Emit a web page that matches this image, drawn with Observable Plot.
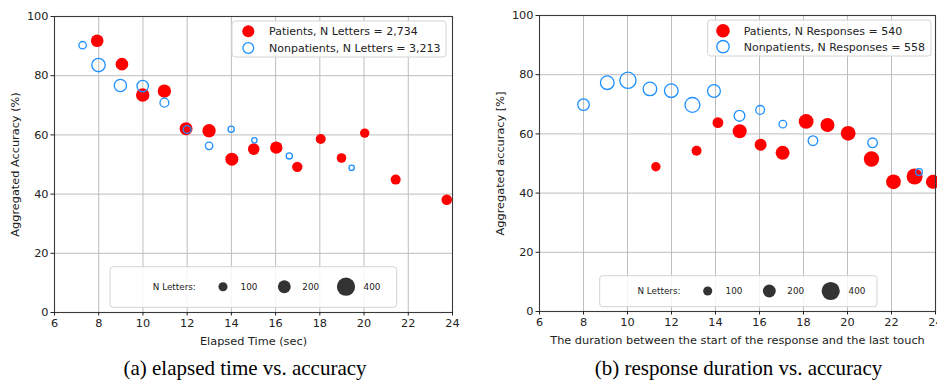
<!DOCTYPE html>
<html><head><meta charset="utf-8">
<script src="https://cdn.jsdelivr.net/npm/d3@7"></script>
<script src="https://cdn.jsdelivr.net/npm/@observablehq/plot@0.6"></script>
<style>
body{margin:0;background:#fff;}
#wrap{position:relative;width:937px;height:380px;overflow:hidden;background:#fff;}
.panel{position:absolute;top:0;}
.panel svg{max-width:none !important;}
#overlay{position:absolute;left:0;top:0;}
</style></head><body><div id="wrap"></div>
<script>
// ---------- data ----------
const xTicks = [6, 8, 10, 12, 14, 16, 18, 20, 22, 24];
const yTicks = [0, 20, 40, 60, 80, 100];

// Panel (a): elapsed time vs. accuracy
const aPatientsX = [7.93, 9.05, 9.99, 10.97, 11.95, 12.99, 14.02, 15.01, 16.03, 16.98, 18.04, 18.98, 20.03, 21.43, 23.74];
const aPatientsY = [91.8, 83.9, 73.5, 74.8, 62.1, 61.4, 51.8, 55.2, 55.7, 49.2, 58.6, 52.2, 60.6, 44.9, 38.1];
const aPatientsN = [192, 192, 217, 217, 204, 217, 204, 162, 186, 131, 121, 111, 107, 121, 136];
const aNonX = [7.27, 7.99, 8.98, 9.99, 10.97, 12.0, 12.99, 13.99, 15.04, 16.62, 19.44];
const aNonY = [90.3, 83.6, 76.7, 76.5, 70.9, 61.8, 56.3, 61.9, 58.2, 52.9, 48.9];
const aNonN = [66, 217, 180, 157, 94, 73, 66, 46, 35, 46, 35];

// Panel (b): response duration vs. accuracy
const bPatientsX = [11.29, 13.14, 14.11, 15.10, 16.05, 17.05, 18.12, 19.09, 20.03, 21.09, 22.09, 23.05, 23.88];
const bPatientsY = [48.9, 54.3, 63.8, 60.9, 56.3, 53.6, 64.2, 63.0, 60.2, 51.5, 43.8, 45.6, 43.8];
const bPatientsN = [107, 121, 141, 237, 174, 237, 264, 237, 264, 286, 264, 309, 237];
const bNonX = [8.0, 9.08, 10.02, 11.02, 11.99, 12.95, 13.93, 15.09, 16.03, 17.06, 18.43, 21.14, 23.25];
const bNonY = [69.9, 77.3, 78.1, 75.2, 74.6, 69.8, 74.5, 66.1, 68.1, 63.3, 57.7, 57.0, 47.1];
const bNonN = [162, 223, 317, 223, 223, 264, 198, 141, 94, 70, 111, 111, 56];

const sizeLegendValues = [100, 200, 400];
const sizeLegendLabels = ["100", "200", "400"];
const sizeLegendTitle = "N Letters:";

const aLegend = ["Patients, N Letters = 2,734", "Nonpatients, N Letters = 3,213"];
const bLegend = ["Patients, N Responses = 540", "Nonpatients, N Responses = 558"];
const aXLabel = "Elapsed Time (sec)";
const aYLabel = "Aggregated Accuracy (%)";
const bXLabel = "The duration between the start of the response and the last touch";
const bYLabel = "Aggregated accuracy [%]";
const captions = ["(a) elapsed time vs. accuracy", "(b) response duration vs. accuracy"];

const RED = "#ff0000", BLUE = "#1e90ff";

function rows(xs, ys, ns) { return xs.map((x, i) => ({x, y: ys[i], n: ns[i]})); }

function panel(o) {
  return Plot.plot({
    width: o.width, height: o.height,
    marginLeft: o.ml, marginRight: o.mr, marginTop: o.mt, marginBottom: o.mb,
    style: {fontFamily: "DejaVu Sans", fontSize: "11.3px", color: "#222", background: "transparent", maxWidth: "none"},
    x: {domain: [6, 24]},
    y: {domain: [0, 100]},
    r: {type: "sqrt", domain: [0, 400], range: [0, 9.1]},
    marks: [
      Plot.gridX(xTicks, {stroke: "#bdbdbd", strokeOpacity: 1, strokeWidth: 1}),
      Plot.gridY(yTicks, {stroke: "#bdbdbd", strokeOpacity: 1, strokeWidth: 1}),
      Plot.dot(o.pat, {x: "x", y: "y", r: "n", fill: RED, stroke: "none"}),
      Plot.dot(o.non, {x: "x", y: "y", r: "n", fill: "none", stroke: BLUE, strokeWidth: 1.3}),
      Plot.frame({stroke: "#3a3a3a", strokeWidth: 1.1}),
      Plot.axisX({ticks: xTicks, label: o.xLabel, labelAnchor: "center", labelArrow: "none", labelOffset: 32, tickSize: 3.5, tickPadding: 2.5, stroke: "#222"}),
      Plot.axisY({ticks: yTicks, label: o.yLabel, labelAnchor: "center", labelArrow: "none", labelOffset: 44, tickSize: 3.5, tickPadding: 2.5, stroke: "#222"})
    ]
  });
}

const wrap = document.getElementById("wrap");
const pa = panel({width: 467, height: 350, ml: 54, mr: 15, mt: 16, mb: 38,
  pat: rows(aPatientsX, aPatientsY, aPatientsN), non: rows(aNonX, aNonY, aNonN), xLabel: aXLabel, yLabel: aYLabel});
const pb = panel({width: 483, height: 350, ml: 72, mr: 15, mt: 15, mb: 39,
  pat: rows(bPatientsX, bPatientsY, bPatientsN), non: rows(bNonX, bNonY, bNonN), xLabel: bXLabel, yLabel: bYLabel});
const da = document.createElement("div"); da.className = "panel"; da.style.left = "0px"; da.style.width = "467px"; da.appendChild(pa); wrap.appendChild(da);
const db = document.createElement("div"); db.className = "panel"; db.style.left = "467px"; db.style.width = "483px"; db.appendChild(pb); wrap.appendChild(db);

// ---------- legends & captions (overlay) ----------
const rScale = pa.scale("r");
const svg = d3.select(wrap).append("svg").attr("id", "overlay").attr("width", 937).attr("height", 380)
  .style("font-family", "DejaVu Sans");

function seriesLegend(box, cx, cy0, dy, tx, labels, rr) {
  svg.append("rect").attr("x", box[0]).attr("y", box[1]).attr("width", box[2]).attr("height", box[3])
    .attr("rx", 3).attr("fill", "#fff").attr("fill-opacity", 0.85).attr("stroke", "#d4d4d4");
  svg.append("circle").attr("cx", cx).attr("cy", cy0).attr("r", rr).attr("fill", RED);
  svg.append("circle").attr("cx", cx).attr("cy", cy0 + dy).attr("r", rr - 0.6).attr("fill", "none").attr("stroke", BLUE).attr("stroke-width", 1.3);
  labels.forEach((t, i) => svg.append("text").attr("x", tx).attr("y", cy0 + i * dy).attr("dy", "0.36em")
    .attr("font-size", 11).attr("fill", "#222").text(t));
}
function sizeLegend(box, cy, titleX, circX, labX) {
  svg.append("rect").attr("x", box[0]).attr("y", box[1]).attr("width", box[2]).attr("height", box[3])
    .attr("rx", 3).attr("fill", "#fff").attr("fill-opacity", 0.85).attr("stroke", "#d4d4d4");
  svg.append("text").attr("x", titleX).attr("y", cy).attr("dy", "0.36em").attr("text-anchor", "middle")
    .attr("font-size", 8.8).attr("fill", "#222").text(sizeLegendTitle);
  sizeLegendValues.forEach((v, i) => {
    svg.append("circle").attr("cx", circX[i]).attr("cy", cy).attr("r", rScale.apply(v)).attr("fill", "#333");
    svg.append("text").attr("x", labX[i]).attr("y", cy).attr("dy", "0.36em").attr("text-anchor", "middle")
      .attr("font-size", 8.8).attr("fill", "#222").text(sizeLegendLabels[i]);
  });
}
seriesLegend([232, 21, 214, 36], 248.3, 31.3, 16.7, 269, aLegend, 6);
seriesLegend([707.7, 20, 223.3, 36], 723, 30.7, 16, 743.7, bLegend, 6.8);
sizeLegend([110, 266.7, 286.7, 40.6], 286.7, 174.3, [223, 284.3, 346], [249, 310.7, 372]);
sizeLegend([599.7, 275.7, 277.3, 31], 291, 659, [707.7, 769.3, 830.7], [734, 795.7, 857]);

[[245, captions[0]], [738.5, captions[1]]].forEach(([x, t]) =>
  svg.append("text").attr("x", x).attr("y", 375).attr("text-anchor", "middle")
    .attr("font-family", "Liberation Serif, Times New Roman, serif").attr("font-size", 21).attr("fill", "#000").text(t));
</script></body></html>
